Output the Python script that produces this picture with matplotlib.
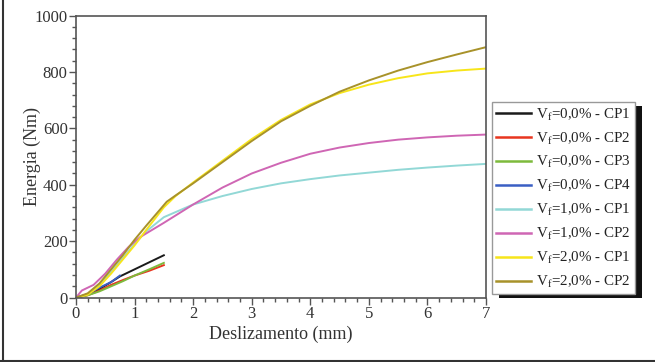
import matplotlib
matplotlib.use("Agg")
import matplotlib.pyplot as plt
from matplotlib.ticker import MultipleLocator
from matplotlib.lines import Line2D
from matplotlib.patches import Rectangle

plt.rcParams['font.family'] = ['Liberation Serif', 'DejaVu Serif']
plt.rcParams['mathtext.fontset'] = 'stix'

# data (slip in mm, energy in Nm)
x_cp1_0 = [0, 0.2, 0.4, 0.6, 0.75, 1.0, 1.25, 1.5]
y_cp1_0 = [0, 10, 30, 55, 75, 100, 125, 150]
x_cp2_0 = [0, 0.2, 0.4, 0.6, 0.8, 1.0, 1.25, 1.5]
y_cp2_0 = [0, 8, 25, 45, 62, 78, 95, 115]
x_cp3_0 = [0, 0.2, 0.4, 0.6, 0.8, 1.0, 1.25, 1.5]
y_cp3_0 = [0, 8, 22, 40, 58, 78, 100, 123]
x_cp4_0 = [0, 0.2, 0.4, 0.6, 0.75]
y_cp4_0 = [0, 12, 35, 55, 78]

x_cp1_1 = [0, 0.2, 0.4, 0.6, 0.8, 1.0, 1.2, 1.5, 2.0, 2.5, 3.0, 3.5, 4.0, 4.5, 5.0, 5.5, 6.0, 6.5, 7.0]
y_cp1_1 = [0, 12, 45, 90, 140, 190, 235, 285, 330, 360, 385, 405, 420, 433, 443, 453, 461, 468, 474]
x_cp2_1 = [0, 0.1, 0.3, 0.5, 0.7, 0.9, 1.1, 1.5, 2.0, 2.5, 3.0, 3.5, 4.0, 4.5, 5.0, 5.5, 6.0, 6.5, 7.0]
y_cp2_1 = [0, 25, 45, 85, 135, 180, 215, 265, 330, 390, 440, 478, 510, 532, 548, 560, 568, 574, 578]

x_cp1_2 = [0, 0.2, 0.4, 0.6, 0.8, 1.0, 1.2, 1.5, 1.7, 2.0, 2.5, 3.0, 3.5, 4.0, 4.5, 5.0, 5.5, 6.0, 6.5, 7.0]
y_cp1_2 = [0, 10, 40, 85, 135, 185, 240, 320, 360, 408, 485, 562, 630, 685, 725, 755, 778, 795, 805, 812]
x_cp2_2 = [0, 0.2, 0.4, 0.6, 0.8, 1.0, 1.2, 1.55, 1.7, 2.0, 2.5, 3.0, 3.5, 4.0, 4.5, 5.0, 5.5, 6.0, 6.5, 7.0]
y_cp2_2 = [0, 15, 50, 100, 150, 205, 255, 340, 362, 405, 480, 555, 625, 680, 730, 770, 805, 835, 862, 888]

series = [
    (x_cp1_0, y_cp1_0, '#1a1a1a', r'V$_\mathregular{f}$=0,0% - CP1'),
    (x_cp2_0, y_cp2_0, '#e8351f', r'V$_\mathregular{f}$=0,0% - CP2'),
    (x_cp3_0, y_cp3_0, '#7dba3c', r'V$_\mathregular{f}$=0,0% - CP3'),
    (x_cp4_0, y_cp4_0, '#3a5fc4', r'V$_\mathregular{f}$=0,0% - CP4'),
    (x_cp1_1, y_cp1_1, '#92d8d6', r'V$_\mathregular{f}$=1,0% - CP1'),
    (x_cp2_1, y_cp2_1, '#cf66b4', r'V$_\mathregular{f}$=1,0% - CP2'),
    (x_cp1_2, y_cp1_2, '#f7e51a', r'V$_\mathregular{f}$=2,0% - CP1'),
    (x_cp2_2, y_cp2_2, '#a8922a', r'V$_\mathregular{f}$=2,0% - CP2'),
]

txt = '#333333'
fig = plt.figure(figsize=(6.55, 3.62), dpi=100)
ax = fig.add_axes([0.116, 0.178, 0.626, 0.779])

# draw order: 0% first, then 1%, then 2% on top
for xs, ys, c, lab in series:
    ax.plot(xs, ys, color=c, lw=1.4)

ax.set_xlim(0, 7)
ax.set_ylim(0, 1000)
ax.xaxis.set_major_locator(MultipleLocator(1))
ax.xaxis.set_minor_locator(MultipleLocator(0.2))
ax.yaxis.set_major_locator(MultipleLocator(200))
ax.yaxis.set_minor_locator(MultipleLocator(40))
ax.tick_params(which='both', direction='out', colors='#555555', labelcolor=txt,
               labelsize=12, width=1)
ax.tick_params(which='major', length=5, pad=1)
ax.tick_params(which='minor', length=3)
for s in ax.spines.values():
    s.set_color('#555555')
    s.set_linewidth(1.2)

ax.set_xlabel('Deslizamento (mm)', fontsize=13, color=txt, labelpad=3)
ax.set_ylabel('Energia (Nm)', fontsize=13, color=txt)
ax.yaxis.set_label_coords(-0.086, 0.5)

handles = [Line2D([], [], color=c, lw=1.8) for _, _, c, _ in series]
labels = [lab for _, _, _, lab in series]
leg = fig.legend(handles, labels, loc='upper left', bbox_to_anchor=(0.751, 0.718),
                 fontsize=10.8, frameon=True, fancybox=False, edgecolor='#999999',
                 facecolor='white', framealpha=1,
                 handlelength=2.3, handletextpad=0.33, labelspacing=0.52,
                 borderpad=0.3, borderaxespad=0)
leg.get_frame().set_linewidth(1.0)
for t in leg.get_texts():
    t.set_color('#222222')

# shadow behind legend box
fig.canvas.draw()
bb = leg.get_window_extent().transformed(fig.transFigure.inverted())
dx, dy = 7 / 655, 4 / 362
fig.patches.append(Rectangle((bb.x0 + dx, bb.y0 - dy), bb.width, bb.height,
                             transform=fig.transFigure, facecolor='#111111',
                             edgecolor='none', zorder=-1))
leg.set_zorder(5)

# figure border (left and bottom only)
fig.add_artist(Line2D([3 / 655, 3 / 655], [0, 1], transform=fig.transFigure,
                      color='#333333', lw=1.5))
fig.add_artist(Line2D([0, 1], [1.5 / 362, 1.5 / 362], transform=fig.transFigure,
                      color='#333333', lw=1.5))

fig.savefig('out.png', dpi=100)
